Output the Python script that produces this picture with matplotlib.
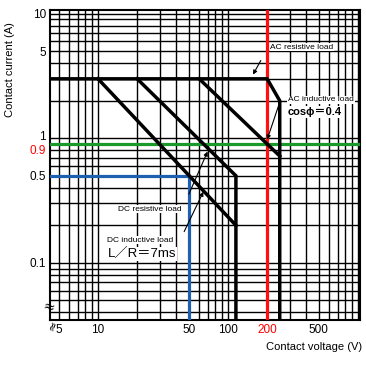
import numpy as np
import matplotlib.pyplot as plt
from matplotlib.transforms import ScaledTranslation

plt.rcParams['font.family'] = ['Liberation Sans', 'DejaVu Sans', 'Noto Sans CJK JP']

# load limit curves (voltage V, current A)
ac_res_v = [4.0, 200, 250, 250]
ac_res_i = [3.0, 3.0, 2.0, 0.02]
ac_ind_v = [60, 250]
ac_ind_i = [3.0, 0.72]
dc_res_v = [20, 115, 115]
dc_res_i = [3.0, 0.5, 0.02]
dc_ind_v = [10, 115]
dc_ind_i = [3.0, 0.2]

# marked points
dc_mark_v = 50
dc_mark_i = 0.5
ac_mark_v = 200
ac_mark_i = 0.9

x_ticks = [5, 10, 50, 100, 200, 500]
x_labels = ['5', '10', '50', '100', '200', '500']
y_ticks = [0.1, 0.5, 0.9, 1, 5, 10]
y_labels = ['0.1', '0.5', '0.9', '1', '5', '10']

fig = plt.figure(figsize=(3.66, 3.67), dpi=100)
ax = fig.add_axes([50 / 366, 47 / 367, 310 / 366, 310 / 367])
ax.set_xscale('log')
ax.set_yscale('log')

grid = np.concatenate([np.arange(1, 10) * 10.0 ** k for k in range(-2, 4)])
ax.set_xticks(grid, minor=True)
ax.set_yticks(grid, minor=True)
ax.set_xticks(x_ticks, x_labels)
ax.set_yticks(y_ticks, y_labels)
ax.set_xticklabels([], minor=True)
ax.set_yticklabels([], minor=True)
ax.set_xlim(4.27, 1036)
ax.set_ylim(0.0348, 10.7)
ax.grid(which='both', color='black', lw=1.0, zorder=0)
ax.set_axisbelow(True)
ax.tick_params(which='both', length=0, labelsize=8.5, pad=3)
for s in ax.spines.values():
    s.set_linewidth(1.5)

for lbl in ax.get_xticklabels():
    if lbl.get_text() == '200':
        lbl.set_color('red')
for lbl in ax.get_yticklabels():
    if lbl.get_text() == '0.9':
        lbl.set_color('red')
        lbl.set_transform(lbl.get_transform() + ScaledTranslation(0, -4 / 72, fig.dpi_scale_trans))
    if lbl.get_text() == '1':
        lbl.set_transform(lbl.get_transform() + ScaledTranslation(0, 2 / 72, fig.dpi_scale_trans))

ax.axhline(ac_mark_i, color='#1a9a2a', lw=2.3, zorder=3)
ax.axvline(ac_mark_v, color='#ff1010', lw=2.3, zorder=4)
ax.plot([1, dc_mark_v], [dc_mark_i, dc_mark_i], color='#1f5fb0', lw=2.3, zorder=3)
ax.plot([dc_mark_v, dc_mark_v], [dc_mark_i, 0.01], color='#1f5fb0', lw=2.3, zorder=3)

kw = dict(color='black', lw=2.5, zorder=5, solid_joinstyle='miter')
ax.plot(ac_res_v, ac_res_i, **kw)
ax.plot(ac_ind_v, ac_ind_i, **kw)
ax.plot(dc_res_v, dc_res_i, **kw)
ax.plot(dc_ind_v, dc_ind_i, **kw)

box = dict(facecolor='white', edgecolor='none', pad=0.5)
arrow = dict(arrowstyle='-|>', color='black', lw=0.8, mutation_scale=6)
ax.text(212, 5.37, 'AC resistive load', fontsize=6, va='center', zorder=6, bbox=box)
ax.annotate('', xy=(152, 3.1), xytext=(183, 4.4), arrowprops=arrow, zorder=6)
ax.text(290, 2.03, 'AC inductive load', fontsize=6, va='center', zorder=6, bbox=box)
ax.text(290, 1.62, 'cosϕ＝0.4', fontsize=8, fontweight='bold', va='center', zorder=6, bbox=box)
ax.annotate('', xy=(197, 0.93), xytext=(250, 1.95), arrowprops=arrow, zorder=6)

ax.text(25, 0.27, 'DC resistive load', fontsize=6, ha='center', va='center', zorder=6, bbox=box)
ax.annotate('', xy=(71, 0.82), xytext=(49, 0.34), arrowprops=arrow, zorder=6)
ax.text(21, 0.152, 'DC inductive load', fontsize=6, ha='center', va='center', zorder=6, bbox=box)
ax.text(22, 0.118, 'L／R＝7ms', fontsize=9.5, ha='center', va='center', zorder=6, bbox=box)
ax.annotate('', xy=(66, 0.39), xytext=(45, 0.17), arrowprops=arrow, zorder=6)

# axis break marks
fig.text(49 / 366, 1 - 307 / 367, '≈', family='DejaVu Sans', fontsize=10,
         ha='center', va='center', rotation=-15)
fig.text(53 / 366, 1 - 325 / 367, '≈', family='DejaVu Sans', fontsize=9,
         ha='center', va='center', rotation=70)

fig.text(0.028, 0.81, 'Contact current (A)', rotation=90, fontsize=8, ha='center', va='center')
fig.text(0.99, 1 - 347 / 367, 'Contact voltage (V)', fontsize=8, ha='right', va='center')

fig.savefig('out.png', dpi=100)
